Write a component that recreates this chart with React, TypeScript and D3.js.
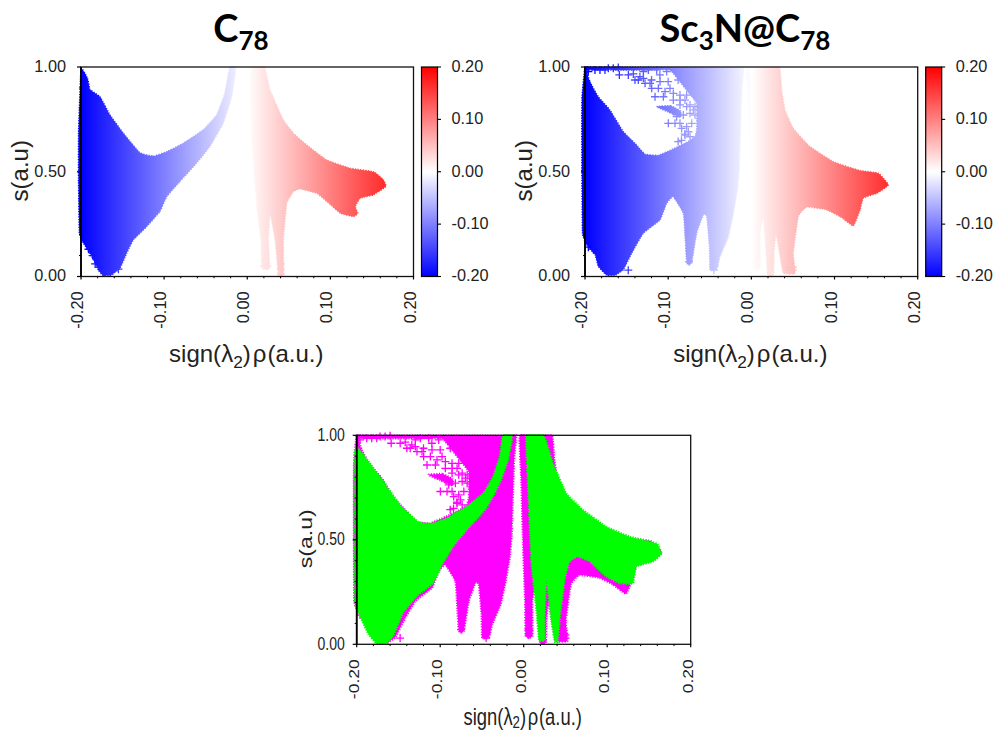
import React from 'react';
import * as d3 from 'd3';

type Pt = [number, number];

// x = sign(lambda2)*rho, y = s. Outlines of the point clouds
const c78Neg: Pt[] = [[-0.2,0.99],[-0.192,0.945],[-0.189,0.893],[-0.177,0.858],[-0.165,0.771],[-0.149,0.684],[-0.129,0.591],[-0.113,0.575],[-0.097,0.596],[-0.077,0.636],[-0.053,0.7],[-0.037,0.771],[-0.027,0.874],[-0.021,1],[-0.0135,1],[-0.0187,0.858],[-0.029,0.731],[-0.045,0.62],[-0.061,0.54],[-0.081,0.453],[-0.097,0.38],[-0.105,0.31],[-0.121,0.238],[-0.137,0.175],[-0.145,0.111],[-0.153,0.04],[-0.163,0.008],[-0.173,0.003],[-0.179,0.03],[-0.187,0.095],[-0.197,0.159],[-0.202,0.207],[-0.203,0.45],[-0.203,0.68]];
const c78Pos: Pt[] = [[0.004,1],[0.0207,1],[0.0275,0.89],[0.0435,0.747],[0.0556,0.684],[0.0716,0.628],[0.0957,0.556],[0.124,0.517],[0.152,0.5],[0.164,0.461],[0.1667,0.429],[0.152,0.39],[0.136,0.374],[0.13,0.334],[0.133,0.302],[0.128,0.286],[0.112,0.302],[0.0957,0.358],[0.0837,0.397],[0.0636,0.418],[0.0556,0.405],[0.0476,0.35],[0.0435,0.175],[0.0435,0.008],[0.0375,0.008],[0.0335,0.175],[0.0275,0.3],[0.0255,0.175],[0.0267,0.04],[0.0175,0.04],[0.0165,0.175],[0.0115,0.334],[0.0055,0.636]];
const c78Tips: Pt[] = [[-0.165,0.02],[-0.155,0.035],[-0.178,0.045],[-0.183,0.06],[-0.191,0.13],[-0.186,0.1],[0.0405,0.012],[0.0405,0.035],[0.0405,0.06],[0.02,0.05],[0.024,0.05],[0.022,0.08]];

const sc78Neg: Pt[] = [[-0.2,1],[-0.19,1],[-0.15,1],[-0.1,1],[-0.05,1],[-0.015,1],[-0.0088,1],[-0.0116,0.874],[-0.0144,0.525],[-0.0168,0.413],[-0.0216,0.302],[-0.0277,0.19],[-0.0377,0.095],[-0.0417,0.032],[-0.0497,0.032],[-0.0505,0.143],[-0.0537,0.286],[-0.0577,0.294],[-0.0657,0.207],[-0.0717,0.064],[-0.0777,0.064],[-0.0797,0.19],[-0.0818,0.302],[-0.0938,0.38],[-0.1018,0.35],[-0.1098,0.27],[-0.1298,0.207],[-0.1439,0.111],[-0.1539,0.032],[-0.1639,0.006],[-0.1739,0.006],[-0.1839,0.048],[-0.1879,0.103],[-0.198,0.151],[-0.203,0.207],[-0.2038,0.5],[-0.2038,0.843]];
// the empty wedge above the C78-like body, cut out of sc78Neg
const sc78Hole: Pt[] = [[-0.197,0.985],[-0.194,0.93],[-0.184,0.858],[-0.17,0.795],[-0.154,0.692],[-0.14,0.636],[-0.128,0.585],[-0.112,0.579],[-0.094,0.609],[-0.076,0.644],[-0.068,0.668],[-0.0657,0.7],[-0.0657,0.747],[-0.0657,0.826],[-0.075,0.875],[-0.086,0.93],[-0.098,0.985],[-0.13,0.985],[-0.165,0.985]];
const sc78Finger: Pt[] = [[-0.114,0.811],[-0.097,0.815],[-0.085,0.79],[-0.085,0.76],[-0.1,0.785]];
const sc78Pos: Pt[] = [[-0.005,1],[0.01,1],[0.0337,1],[0.0365,0.89],[0.0405,0.795],[0.0505,0.707],[0.0705,0.62],[0.0986,0.548],[0.1307,0.506],[0.1527,0.493],[0.1647,0.437],[0.1507,0.397],[0.1347,0.374],[0.1307,0.318],[0.1226,0.242],[0.1066,0.286],[0.0906,0.318],[0.0665,0.331],[0.0565,0.286],[0.0505,0.111],[0.0525,0.016],[0.0385,0.016],[0.0345,0.095],[0.0297,0.207],[0.0273,0.111],[0.0265,0.008],[0.0196,0.008],[0.0172,0.143],[0.0144,0.286],[0.0104,0.207],[0.0104,0.04],[0.0024,0.04],[0.0016,0.207],[-0.001,0.5],[-0.003,0.8]];
// single sparse points in the wedge and at the spike tips
const sc78Sparse: Pt[] = [[-0.1587,0.962],[-0.1479,0.962],[-0.1419,0.967],[-0.1359,0.938],[-0.1298,0.978],[-0.1278,0.922],[-0.1198,0.898],[-0.1098,0.93],[-0.1158,0.858],[-0.1058,0.858],[-0.0978,0.898],[-0.0938,0.842],[-0.0858,0.866],[-0.0778,0.866],[-0.0998,0.731],[-0.0918,0.731],[-0.0838,0.707],[-0.0757,0.691],[-0.0677,0.811],[-0.0737,0.779],[-0.0858,0.819],[-0.1238,0.986],[-0.1138,0.986],[-0.1018,0.978],[-0.196,0.978],[-0.188,0.986],[-0.182,0.986],[-0.176,0.986],[-0.172,0.994],[-0.166,0.994],[-0.16,0.998],[-0.11,0.962],[-0.134,0.954],[-0.12,0.938],[-0.1,0.93],[-0.088,0.938],[-0.088,0.644],[-0.084,0.65],[-0.08,0.68],[-0.0697,0.795],[-0.0778,0.811],[-0.0818,0.771],[-0.0898,0.763],[-0.0938,0.787],[-0.0858,0.731],[-0.0778,0.715],[-0.0717,0.731],[-0.0677,0.771],[-0.0737,0.819],[-0.0798,0.842],[-0.0858,0.842],[-0.0938,0.874],[-0.1038,0.882],[-0.1118,0.898],[-0.1218,0.922],[-0.1298,0.946],[-0.1399,0.938],[-0.0737,0.667],[-0.0798,0.675],[-0.148,0.03],[-0.19,0.13],[-0.196,0.14],[-0.075,0.07],[-0.045,0.03],[-0.0445,0.05]];
const sc78Tips: Pt[] = [[0.046,0.03],[0.05,0.03],[0.046,0.045],[0.05,0.045],[0.023,0.02],[0.006,0.045],[0.006,0.07]];

// C78 as it shows in the overlay, a little wider than in the top panel
const greenNeg: Pt[] = [[-0.2,0.946],[-0.184,0.866],[-0.164,0.754],[-0.1445,0.651],[-0.1265,0.587],[-0.1126,0.576],[-0.0926,0.603],[-0.0687,0.659],[-0.0487,0.722],[-0.0367,0.802],[-0.0287,0.898],[-0.0248,1],[-0.0136,1],[-0.0188,0.882],[-0.0287,0.77],[-0.0447,0.651],[-0.0647,0.563],[-0.0846,0.467],[-0.0966,0.388],[-0.1086,0.292],[-0.1265,0.236],[-0.1445,0.148],[-0.1565,0.037],[-0.1645,0.005],[-0.1765,0.005],[-0.1864,0.053],[-0.1984,0.156],[-0.2024,0.212],[-0.2024,0.55],[-0.2024,0.914]];
const greenPos: Pt[] = [[0.0032,1],[0.024,1],[0.0351,0.866],[0.0511,0.722],[0.0711,0.643],[0.099,0.563],[0.127,0.515],[0.1589,0.483],[0.1649,0.435],[0.1549,0.396],[0.1349,0.372],[0.1309,0.292],[0.115,0.292],[0.099,0.324],[0.079,0.396],[0.0651,0.419],[0.0551,0.396],[0.0491,0.308],[0.0431,0.116],[0.0411,0.013],[0.0371,0.013],[0.0331,0.116],[0.0271,0.308],[0.0252,0.116],[0.0252,0.021],[0.0184,0.021],[0.0152,0.164],[0.0092,0.388],[0.0052,0.754]];

const xMajor = [-0.2, -0.1, 0, 0.1, 0.2];
const xMinor = [-0.18,-0.16,-0.14,-0.12,-0.08,-0.06,-0.04,-0.02,0.02,0.04,0.06,0.08,0.12,0.14,0.16,0.18];
const yMajor = [0, 0.5, 1];
const yMinor = [0.1, 0.2, 0.3, 0.4, 0.6, 0.7, 0.8, 0.9];
const barTicks = [-0.2, -0.1, 0, 0.1, 0.2];

const fontName = '"Liberation Sans", Arial, sans-serif';
const titleFont = 'Lato, "Noto Sans", sans-serif';

const heat = d3.scaleLinear<string>().domain([-0.2, 0, 0.2]).range(['#0000ff', '#ffffff', '#ff0000']);
const fmt = (v: number) => d3.format('.2f')(v).replace('\u2212', '-');

interface Cloud {
  rings: Pt[][];
  points: Pt[];
  fill?: string; // flat colour, otherwise the heat gradient
}

interface PanelProps {
  id: string;
  box: [number, number, number, number]; // left, right, top, bottom
  clouds: Cloud[];
  colorbar?: boolean;
  fontSize: number;
  labelSize: number;
  squeeze: number; // the bottom panel's text is narrower
  tickGap: number;
  subDrop: number;
  yLabelX: number;
  xLabelY: number;
}

function plus(r: number) {
  return `M${-r},0H${r}M0,${-r}V${r}`;
}

function Panel({ id, box, clouds, colorbar, fontSize, labelSize, squeeze, tickGap, subDrop, yLabelX, xLabelY }: PanelProps) {
  const [l, r, t, b] = box;
  const x = d3.scaleLinear().domain([-0.2, 0.2]).range([l, r]);
  const y = d3.scaleLinear().domain([0, 1]).range([b, t]);
  const line = d3.line<Pt>().x(d => x(d[0])).y(d => y(d[1])).curve(d3.curveCardinalClosed.tension(0.65));
  const barY = d3.scaleLinear().domain([-0.2, 0.2]).range([b, t]);
  const barL = r + 8;
  const barW = 16;
  const gradStops = [-0.2, -0.1, 0, 0.1, 0.2];

  return (
    <g>
      <defs>
        <linearGradient id={`heat-${id}`} gradientUnits="userSpaceOnUse" x1={x(-0.2)} x2={x(0.2)} y1={0} y2={0}>
          {gradStops.map(v => <stop key={v} offset={(v + 0.2) / 0.4} stopColor={heat(v)} />)}
        </linearGradient>
        <linearGradient id={`bar-${id}`} x1="0" x2="0" y1="1" y2="0">
          {gradStops.map(v => <stop key={v} offset={(v + 0.2) / 0.4} stopColor={heat(v)} />)}
        </linearGradient>
        <clipPath id={`plot-${id}`}>
          <rect x={l - 4} y={t - 1} width={r - l + 5} height={b - t + 1} />
        </clipPath>
      </defs>

      {clouds.map((c, i) => {
        const paint = c.fill ?? `url(#heat-${id})`;
        const d = c.rings.map(ring => line(ring)).join('');
        return (
          <g key={i}>
            {/* dashed outline gives the clouds their frayed edge */}
            <path d={d} fill={paint} fillRule="evenodd" stroke={paint} strokeWidth={c.fill ? 2.2 : 1.4}
              strokeDasharray="1.2 1.4" clipPath={`url(#plot-${id})`} />
            {c.points.map((p, j) => (
              <path key={j} transform={`translate(${x(p[0])},${y(p[1])})`} d={plus(4)} fill="none"
                stroke={c.fill ?? heat(p[0])} strokeWidth={1.3} />
            ))}
          </g>
        );
      })}

      <rect x={l} y={t} width={r - l} height={b - t} fill="none" stroke="#111" strokeWidth={1.3} />
      <line x1={l} x2={l} y1={t} y2={b} stroke="#000" strokeWidth={1.8} />

      {xMajor.map(v => <line key={v} x1={x(v)} x2={x(v)} y1={b} y2={b + 3} stroke="#000" strokeWidth={1.2} />)}
      {xMinor.map(v => <line key={v} x1={x(v)} x2={x(v)} y1={b} y2={b + 1.8} stroke="#000" strokeWidth={1} />)}
      {yMajor.map(v => <line key={v} x1={l - 4} x2={l} y1={y(v)} y2={y(v)} stroke="#000" strokeWidth={1.2} />)}
      {yMinor.map(v => <line key={v} x1={l - 2} x2={l} y1={y(v)} y2={y(v)} stroke="#000" strokeWidth={1} />)}

      <g fontFamily={fontName} fill="#222" fontSize={fontSize}>
        {yMajor.map(v => (
          <text key={v} transform={`translate(${l - tickGap},${y(v) + fontSize * 0.3}) scale(${squeeze},1)`} textAnchor="end">
            {fmt(v)}
          </text>
        ))}
        {xMajor.map(v => (
          <text key={v} transform={`translate(${x(v) + 2},${b + 15}) scale(${squeeze},1) rotate(-90)`} textAnchor="end">
            {fmt(v)}
          </text>
        ))}
      </g>

      <g fontFamily={fontName} fill="#222" fontSize={labelSize}>
        <text transform={`translate(${yLabelX},${(t + b) / 2 - 1}) scale(${squeeze},1) rotate(-90)`} textAnchor="middle">s(a.u)</text>
        <text transform={`translate(${(l + r) / 2 - 1},${xLabelY}) scale(${squeeze},1)`} textAnchor="middle">
          sign(<tspan>λ</tspan><tspan fontSize={labelSize * 0.72} dy={subDrop}>2</tspan><tspan dy={-subDrop}>)</tspan><tspan dx={2}>ρ</tspan><tspan dx={1}>(a.u.)</tspan>
        </text>
      </g>

      {colorbar && (
        <g>
          <rect x={barL} y={t} width={barW} height={b - t} fill={`url(#bar-${id})`} stroke="#000" strokeWidth={1.2} />
          {barTicks.map(v => (
            <g key={v}>
              <line x1={barL + barW} x2={barL + barW + 3.5} y1={barY(v)} y2={barY(v)} stroke="#000" strokeWidth={1.1} />
              <text x={r + 38} y={barY(v) + fontSize * 0.3} fontFamily={fontName} fontSize={fontSize} fill="#222">
                {fmt(v)}
              </text>
            </g>
          ))}
        </g>
      )}
    </g>
  );
}

function Title({ cx, parts }: { cx: number; parts: [string, boolean][] }) {
  return (
    <text x={cx} y={42} textAnchor="middle" fontFamily={titleFont} fontWeight={700} fontSize={38} fill="#000">
      {parts.map(([txt, sub], i) => (
        <tspan key={i} fontSize={sub ? 26 : 38} dy={sub ? 8 : i > 0 ? -8 : 0}>{txt}</tspan>
      ))}
    </text>
  );
}

export default function App() {
  const c78: Cloud[] = [{ rings: [c78Neg, c78Pos], points: c78Tips }];
  const sc78: Cloud[] = [
    { rings: [sc78Neg, sc78Hole], points: sc78Sparse },
    { rings: [sc78Finger, sc78Pos], points: sc78Tips },
  ];
  const overlay: Cloud[] = [
    { rings: [sc78Neg, sc78Hole], points: sc78Sparse, fill: '#ff00ff' },
    { rings: [sc78Finger, sc78Pos], points: sc78Tips, fill: '#ff00ff' },
    { rings: [greenNeg, greenPos], points: [], fill: '#00ff00' },
  ];

  return (
    <svg width={997} height={733} style={{ position: 'absolute', left: 0, top: 0, background: '#fff' }}>
      <Title cx={241} parts={[['C', false], ['78', true]]} />
      <Title cx={745} parts={[['Sc', false], ['3', true], ['N@C', false], ['78', true]]} />
      <Panel id="a" box={[81, 413.5, 67, 276.5]} clouds={c78} colorbar fontSize={16.3} labelSize={24} squeeze={1} tickGap={15} subDrop={6} yLabelX={28} xLabelY={362} />
      <Panel id="b" box={[585, 917.7, 67, 276.5]} clouds={sc78} colorbar fontSize={16.3} labelSize={24} squeeze={1} tickGap={15} subDrop={6} yLabelX={532} xLabelY={362} />
      <Panel id="c" box={[356.7, 690.7, 435.3, 644.3]} clouds={overlay} fontSize={17.5} labelSize={23} squeeze={0.8} tickGap={12} subDrop={3} yLabelX={312} xLabelY={725} />
    </svg>
  );
}
